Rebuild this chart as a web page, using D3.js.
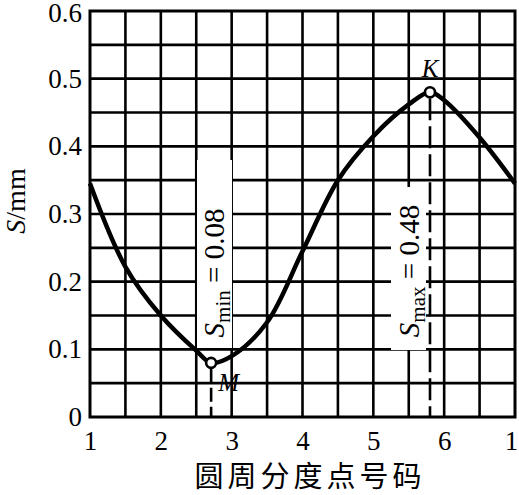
<!DOCTYPE html>
<html>
<head>
<meta charset="utf-8">
<script src="https://cdn.jsdelivr.net/npm/d3@7"></script>
<style>
  body { margin: 0; background: white; }
  text { font-family: "Liberation Serif", "DejaVu Serif", serif; }
</style>
</head>
<body>
<div id="container"></div>
<script>
// circle division point positions (0..6 -> labels 1..6,1) and runout S (mm)
const pos   = [0, 0.5, 1, 1.5, 1.71, 2, 2.5, 3, 3.5, 4, 4.5, 4.8, 5, 5.5, 6];
const sVals = [0.345, 0.222, 0.15, 0.098, 0.08, 0.09, 0.14, 0.245, 0.35, 0.415, 0.462, 0.48, 0.468, 0.413, 0.345];
const xLabels = ["1", "2", "3", "4", "5", "6", "1"];
const yTicks = [0, 0.1, 0.2, 0.3, 0.4, 0.5, 0.6];
const pointM = { x: 1.71, s: 0.08 };
const pointK = { x: 4.8, s: 0.48 };

let svg = d3.select("#container").append("svg")
    .attr("width", 519)
    .attr("height", 495)

let x = d3.scaleLinear().domain([0, 6]).range([90, 515])
let y = d3.scaleLinear().domain([0, 0.6]).range([417, 11])

// grid
let grid = svg.append("g").attr("stroke", "black").attr("stroke-width", 2.6)
grid.selectAll("vline").data(d3.range(0.5, 6, 0.5)).enter().append("line")
    .attr("x1", d => x(d)).attr("x2", d => x(d))
    .attr("y1", y(0.6)).attr("y2", y(0))
grid.selectAll("hline").data(d3.range(1, 12).map(i => i * 0.05)).enter().append("line")
    .attr("x1", x(0)).attr("x2", x(6))
    .attr("y1", d => y(d)).attr("y2", d => y(d))

// white boxes behind the rotated labels
svg.append("rect").attr("x", 197).attr("y", 160).attr("width", 35).attr("height", 188).attr("fill", "white")
svg.append("rect").attr("x", 391).attr("y", 187).attr("width", 35).attr("height", 163).attr("fill", "white")

// frame
svg.append("rect")
    .attr("x", x(0)).attr("y", y(0.6))
    .attr("width", x(6) - x(0)).attr("height", y(0) - y(0.6))
    .attr("fill", "none").attr("stroke", "black").attr("stroke-width", 3)

// dashed drop lines
svg.append("line")
    .attr("x1", x(pointM.x)).attr("x2", x(pointM.x))
    .attr("y1", y(pointM.s) + 6).attr("y2", y(0))
    .attr("stroke", "black").attr("stroke-width", 2.6).attr("stroke-dasharray", "14,5")
svg.append("line")
    .attr("x1", x(pointK.x)).attr("x2", x(pointK.x))
    .attr("y1", y(pointK.s) + 6).attr("y2", y(0))
    .attr("stroke", "black").attr("stroke-width", 2.6).attr("stroke-dasharray", "22,6")

// curve
let line = d3.line()
    .x((d, i) => x(pos[i]))
    .y(d => y(d))
    .curve(d3.curveCatmullRom.alpha(0.5))
svg.append("path")
    .datum(sVals)
    .attr("d", line)
    .attr("fill", "none")
    .attr("stroke", "black")
    .attr("stroke-width", 4.5)

// marked points
svg.selectAll("mark").data([pointM, pointK]).enter().append("circle")
    .attr("cx", d => x(d.x)).attr("cy", d => y(d.s)).attr("r", 5)
    .attr("fill", "white").attr("stroke", "black").attr("stroke-width", 2.6)

svg.append("text").attr("x", x(pointK.x)).attr("y", y(pointK.s) - 15)
    .attr("text-anchor", "middle").attr("font-size", 25).attr("font-style", "italic").text("K")
svg.append("text").attr("x", x(pointM.x) + 7).attr("y", y(pointM.s) + 28)
    .attr("font-size", 25).attr("font-style", "italic").text("M")

// rotated labels
function subLabel(cx, cy, sub, val) {
    let t = svg.append("text")
        .attr("transform", "translate(" + cx + "," + cy + ") rotate(-90)")
        .attr("text-anchor", "middle")
        .attr("font-size", 29)
    t.append("tspan").attr("font-style", "italic").text("S")
    t.append("tspan").attr("font-size", 21).attr("dy", 6).text(sub)
    t.append("tspan").attr("dy", -6).text(" = " + val)
}
subLabel(224, 273, "min", "0.08")
subLabel(419, 271, "max", "0.48")

// axes
let xAxis = svg.append("g")
    .attr("transform", "translate(0," + y(0) + ")")
    .call(d3.axisBottom(x).tickValues(d3.range(0, 7)).tickSize(0).tickFormat(i => xLabels[i]))
xAxis.select(".domain").remove()
xAxis.selectAll("text").attr("font-size", 27).attr("dy", "1.1em")
    .style("font-family", "Liberation Serif").attr("fill", "black")
    .attr("x", (d, i) => i === 6 ? -4 : 0)

let yAxis = svg.append("g")
    .attr("transform", "translate(" + x(0) + ",0)")
    .call(d3.axisLeft(y).tickValues(yTicks).tickSize(0).tickFormat(d => d === 0 ? "0" : d.toFixed(1)))
yAxis.select(".domain").remove()
yAxis.selectAll("text").attr("font-size", 27).attr("x", -8)
    .attr("dy", d => d === 0.6 ? "0.4em" : "0.32em")
    .style("font-family", "Liberation Serif").attr("fill", "black")

// axis titles
let yTitle = svg.append("text")
    .attr("transform", "translate(25,201) rotate(-90)")
    .attr("text-anchor", "middle")
    .attr("font-size", 28)
yTitle.append("tspan").attr("font-style", "italic").text("S")
yTitle.append("tspan").text("/mm")

svg.append("text")
    .attr("x", 310).attr("y", 487)
    .attr("text-anchor", "middle")
    .attr("font-size", 29)
    .attr("letter-spacing", 4)
    .style("font-family", "'Noto Sans CJK SC'")
    .text("圆周分度点号码")
</script>
</body>
</html>
